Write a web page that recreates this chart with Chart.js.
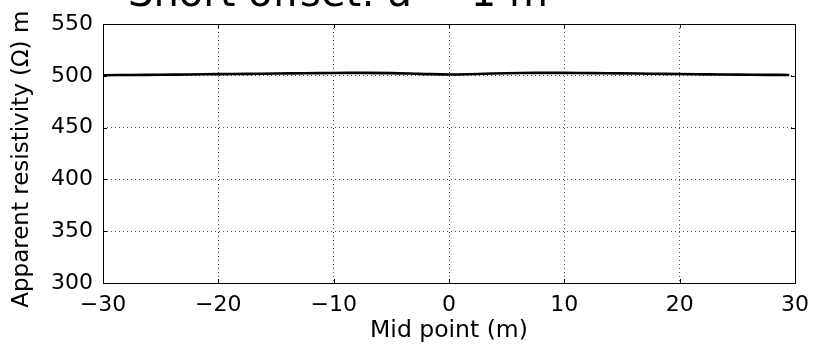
<!DOCTYPE html>
<html lang="en">
<head>
<meta charset="UTF-8"/>
<title>Short offset</title>
<script src="https://cdn.jsdelivr.net/npm/chart.js@4/dist/chart.umd.min.js"></script>
<style>
  html, body { margin: 0; padding: 0; background: #fff; }
  #wrap { width: 823px; height: 347px; }
</style>
</head>
<body>
<div id="wrap"><canvas id="chart" width="823" height="347"></canvas></div>
<script>
const titleText = 'Short offset: a = 1 m';
const xLabel = 'Mid point (m)';
const yLabel = 'Apparent resistivity (\u03A9) m\u2002';

// mid points (m) and apparent resistivity
const midPoints = [-30, -27.5, -25, -22.5, -20, -17.5, -15, -12.5, -10, -7.5, -5, -2.5, 0, 2.5, 5, 7.5, 10, 12.5, 15, 17.5, 20, 22.5, 25, 27.5, 29.5];
const resistivity = [500.6, 500.8, 501.0, 501.3, 501.6, 501.9, 502.2, 502.5, 502.7, 502.8, 502.6, 501.9, 501.2, 501.8, 502.5, 502.8, 502.8, 502.6, 502.3, 502.0, 501.7, 501.4, 501.1, 500.9, 500.8];

const xTicks = [-30, -20, -10, 0, 10, 20, 30];
const yTicks = [300, 350, 400, 450, 500, 550];

const font = 'DejaVu Sans';

const framePlugin = {
  id: 'frame',
  afterDatasetsDraw(chart) {
    const {ctx, chartArea: a, scales} = chart;
    ctx.save();
    ctx.strokeStyle = '#000';
    ctx.lineWidth = 1;
    ctx.beginPath();
    xTicks.forEach(v => {
      const x = Math.round(scales.x.getPixelForValue(v)) + 0.5;
      ctx.moveTo(x, a.bottom); ctx.lineTo(x, a.bottom - 4);
      ctx.moveTo(x, a.top); ctx.lineTo(x, a.top + 4);
    });
    yTicks.forEach(v => {
      const y = Math.round(scales.y.getPixelForValue(v)) + 0.5;
      ctx.moveTo(a.left, y); ctx.lineTo(a.left + 4, y);
      ctx.moveTo(a.right, y); ctx.lineTo(a.right - 4, y);
    });
    ctx.stroke();
    ctx.strokeRect(Math.round(a.left) + 0.5, Math.round(a.top) + 0.5, Math.round(a.width), Math.round(a.height));
    ctx.restore();
  },
  afterDraw(chart) {
    const ctx = chart.ctx;
    ctx.save();
    ctx.fillStyle = '#000';
    ctx.font = '40px "' + font + '"';
    ctx.textBaseline = 'alphabetic';
    ctx.textAlign = 'left';
    ctx.fillText(titleText, 128, 6);
    ctx.restore();
  }
};

new Chart(document.getElementById('chart').getContext('2d'), {
  type: 'line',
  data: {
    datasets: [{
      data: midPoints.map((x, i) => ({x: x, y: resistivity[i]})),
      borderColor: '#000',
      borderWidth: 2.6,
      pointRadius: 0,
      tension: 0.4,
      fill: false
    }]
  },
  options: {
    responsive: false,
    animation: false,
    layout: { padding: { top: 24, right: 28, left: 0, bottom: 0 } },
    plugins: { legend: { display: false }, tooltip: { enabled: false } },
    scales: {
      x: {
        type: 'linear',
        min: -30, max: 30,
        afterBuildTicks: s => { s.ticks = xTicks.map(v => ({value: v})); },
        afterFit: s => { s.height = 64; },
        grid: { color: '#000', lineWidth: 0.7, drawTicks: false },
        border: { display: false, dash: [1, 3] },
        ticks: {
          color: '#000', padding: 9, maxRotation: 0,
          font: { family: font, size: 22 },
          callback: v => (v < 0 ? '\u2212' + Math.abs(v) : String(v))
        },
        title: { display: true, text: xLabel, color: '#000', font: { family: font, size: 23.5 }, padding: { top: 0, bottom: 2 } }
      },
      y: {
        min: 300, max: 550,
        afterBuildTicks: s => { s.ticks = yTicks.map(v => ({value: v})); },
        afterFit: s => { s.width = 103; },
        grid: { color: '#000', lineWidth: 0.7, drawTicks: false },
        border: { display: false, dash: [1, 3] },
        ticks: { color: '#000', padding: 10, font: { family: font, size: 22 } },
        title: { display: true, text: yLabel, color: '#000', font: { family: font, size: 23 }, padding: { top: 8, bottom: 0 } }
      }
    }
  },
  plugins: [framePlugin]
});
</script>
</body>
</html>
